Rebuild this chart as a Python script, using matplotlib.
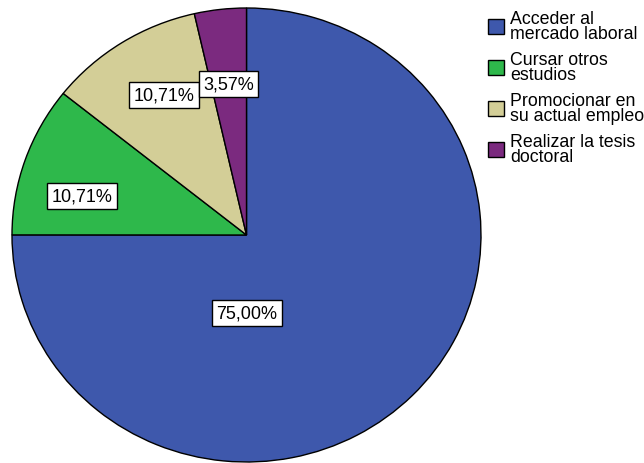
import matplotlib
matplotlib.use("Agg")
import matplotlib.pyplot as plt

categories = ["Acceder al\nmercado laboral", "Cursar otros\nestudios",
              "Promocionar en\nsu actual empleo", "Realizar la tesis\ndoctoral"]
values = [75.00, 10.71, 10.71, 3.57]
pct_labels = ["75,00%", "10,71%", "10,71%", "3,57%"]
colors = ["#3E58AC", "#2EB84B", "#D3CE97", "#7B2A7F"]
# label anchor positions (fraction of radius, data coords)
label_pos = [(0.002, -0.344), (-0.700, 0.172), (-0.350, 0.617), (-0.077, 0.665)]

plt.rcParams['font.family'] = ['Liberation Sans', 'DejaVu Sans']

W, H = 644, 464
fig = plt.figure(figsize=(W / 100, H / 100), dpi=100)
ax = fig.add_axes([12 / W, 1 / H, 469 / W, 454 / H])
wedges, _ = ax.pie(values, colors=colors, startangle=90, counterclock=False,
                   wedgeprops=dict(edgecolor="black", linewidth=1.0))
ax.set_aspect("auto")
ax.set_xlim(-1, 1)
ax.set_ylim(-1, 1)

for (x, y), t in zip(label_pos, pct_labels):
    ax.text(x, y, t, ha="center", va="center", fontsize=13,
            bbox=dict(boxstyle="square,pad=0.25", fc="white", ec="black", lw=1.0))

leg = fig.legend(wedges, categories, loc="upper left",
                 bbox_to_anchor=(488 / W, 1 - 11 / H), frameon=False,
                 fontsize=12.8, handlelength=0.92, handleheight=0.92,
                 handletextpad=0.33, labelspacing=0.5, borderpad=0, borderaxespad=0)
for t in leg.get_texts():
    t.set_linespacing(0.86)
for h in leg.legend_handles:
    h.set_edgecolor("black")
    h.set_linewidth(1.0)

fig.savefig("out.png", dpi=100)
